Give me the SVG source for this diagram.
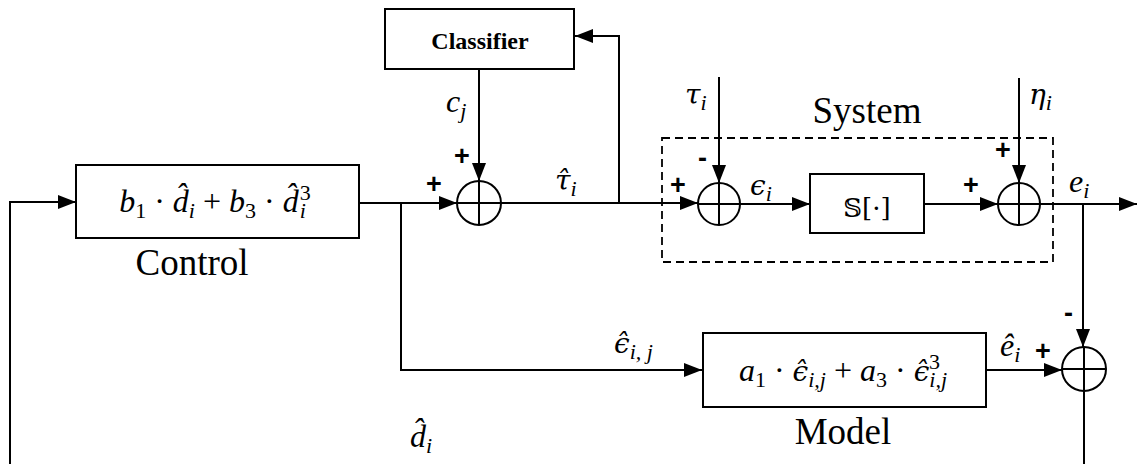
<svg xmlns="http://www.w3.org/2000/svg" width="1137" height="464" viewBox="0 0 1137 464">
<style>
.box{fill:#fff;stroke:#000;stroke-width:2}
.sum{fill:none;stroke:#000;stroke-width:2}
.w{fill:none;stroke:#000;stroke-width:2}
.m{font-family:"Liberation Serif","DejaVu Serif",serif;font-style:italic;font-size:32px;fill:#000}
.g{font-family:"DejaVu Serif",serif;font-size:28px}
.n{font-style:normal}
.lbl{font-family:"Liberation Serif","Times New Roman",serif;font-size:37px;fill:#000}
.sg{font-family:"Liberation Sans",sans-serif;font-size:27px;font-weight:bold;fill:#000}
.sub{font-size:22px}
</style>
<defs>
<marker id="ah" viewBox="0 0 18 14" refX="18" refY="7" markerWidth="18" markerHeight="14" markerUnits="userSpaceOnUse" orient="auto">
<path d="M0,0 L18,7 L0,14 z" fill="#000"/>
</marker>
</defs>
<g id="connectors" class="w">
<path d="M10,464 L10,202 L76,202" marker-end="url(#ah)"/>
<path d="M359,203 L457,203" marker-end="url(#ah)"/>
<path d="M401,203 L401,370 L702,370" marker-end="url(#ah)"/>
<path d="M479,69 L479,181" marker-end="url(#ah)"/>
<path d="M501,203 L698,203" marker-end="url(#ah)"/>
<path d="M619,203 L619,36 L575,36" marker-end="url(#ah)"/>
<path d="M719,77 L719,183" marker-end="url(#ah)"/>
<path d="M740,204 L810,204" marker-end="url(#ah)"/>
<path d="M924,204 L998,204" marker-end="url(#ah)"/>
<path d="M1019,78 L1019,183" marker-end="url(#ah)"/>
<path d="M1040,204 L1137,204" marker-end="url(#ah)"/>
<path d="M1083,204 L1083,347" marker-end="url(#ah)"/>
<path d="M986,370 L1062,370" marker-end="url(#ah)"/>
<path d="M1084,391 L1084,464"/>
</g>
<g id="system">
<rect x="662" y="138" width="391" height="124" fill="none" stroke="#000" stroke-width="1.8" stroke-dasharray="8,5"/>
<text class="lbl" x="867" y="123" text-anchor="middle">System</text>
</g>
<g id="control">
<rect class="box" x="76" y="165" width="283" height="73"/>
<text class="m" x="215" y="212" text-anchor="middle">b<tspan class="sub n" dy="6">1</tspan><tspan class="n" dy="-6"> · </tspan>d̂<tspan class="sub" dy="6">i</tspan><tspan class="n" dy="-6"> + </tspan>b<tspan class="sub n" dy="6">3</tspan><tspan class="n" dy="-6"> · </tspan>d̂<tspan class="sub" dx="1" dy="6">i</tspan><tspan class="sub n" dx="-6" dy="-18">3</tspan></text>
<text class="lbl" x="192" y="275" text-anchor="middle">Control</text>
</g>
<g id="classifier">
<rect class="box" x="385" y="9" width="189" height="60"/>
<text x="480" y="49" text-anchor="middle" font-family="Liberation Serif,serif" font-weight="bold" font-size="24">Classifier</text>
</g>
<g id="sum1">
<circle class="sum" cx="479" cy="203" r="22"/>
<path class="w" d="M457,203 H501 M479,181 V225"/>
</g>
<g id="sum2">
<circle class="sum" cx="719" cy="204" r="21"/>
<path class="w" d="M698,204 H740 M719,183 V225"/>
</g>
<g id="plant">
<rect class="box" x="810" y="174" width="114" height="59"/>
<text x="867" y="217" text-anchor="middle" font-family="DejaVu Serif,DejaVu Sans,serif" font-size="26">𝕊[·]</text>
</g>
<g id="sum3">
<circle class="sum" cx="1019" cy="204" r="21"/>
<path class="w" d="M998,204 H1040 M1019,183 V225"/>
</g>
<g id="model">
<rect class="box" x="703" y="333" width="283" height="74"/>
<text class="m" x="843" y="381" text-anchor="middle">a<tspan class="sub n" dy="6">1</tspan><tspan class="n" dy="-6"> · </tspan><tspan class="g">ϵ̂</tspan><tspan class="sub" dy="6">i,j</tspan><tspan class="n" dy="-6"> + </tspan>a<tspan class="sub n" dy="6">3</tspan><tspan class="n" dy="-6"> · </tspan><tspan class="g">ϵ̂</tspan><tspan class="sub" dy="6">i,j</tspan><tspan class="sub n" dx="-18" dy="-18">3</tspan><tspan class="sub" dx="2" fill="none"> </tspan></text>
<text class="lbl" x="843" y="444" text-anchor="middle">Model</text>
</g>
<g id="sum4">
<circle class="sum" cx="1084" cy="369" r="22"/>
<path class="w" d="M1062,369 H1106 M1084,347 V391"/>
</g>
<g id="labels">
<text class="m" x="446" y="112">c<tspan class="sub" dy="6">j</tspan></text>
<text class="m" x="555" y="190"><tspan class="g">τ̂</tspan><tspan class="sub" dy="6">i</tspan></text>
<text class="m" x="685" y="104"><tspan class="g">τ</tspan><tspan class="sub" dy="6">i</tspan></text>
<text class="m" x="750" y="195"><tspan class="g">ϵ</tspan><tspan class="sub" dy="6">i</tspan></text>
<text class="m" x="1029" y="104"><tspan class="g">η</tspan><tspan class="sub" dy="6">i</tspan></text>
<text class="m" x="1069" y="192">e<tspan class="sub" dy="6">i</tspan></text>
<text class="m" x="1000" y="356">ê<tspan class="sub" dy="6">i</tspan></text>
<text class="m" x="614" y="353"><tspan class="g">ϵ̂</tspan><tspan class="sub" dy="6">i, j</tspan></text>
<text class="m" x="410" y="447">d̂<tspan class="sub" dy="6">i</tspan></text>
<g class="sg">
<text x="454" y="165">+</text>
<text x="426" y="193">+</text>
<text x="670" y="194">+</text>
<text x="698" y="167">-</text>
<text x="995" y="159">+</text>
<text x="963" y="194">+</text>
<text x="1035" y="360">+</text>
<text x="1064" y="322">-</text>
</g>
</g>
</svg>
